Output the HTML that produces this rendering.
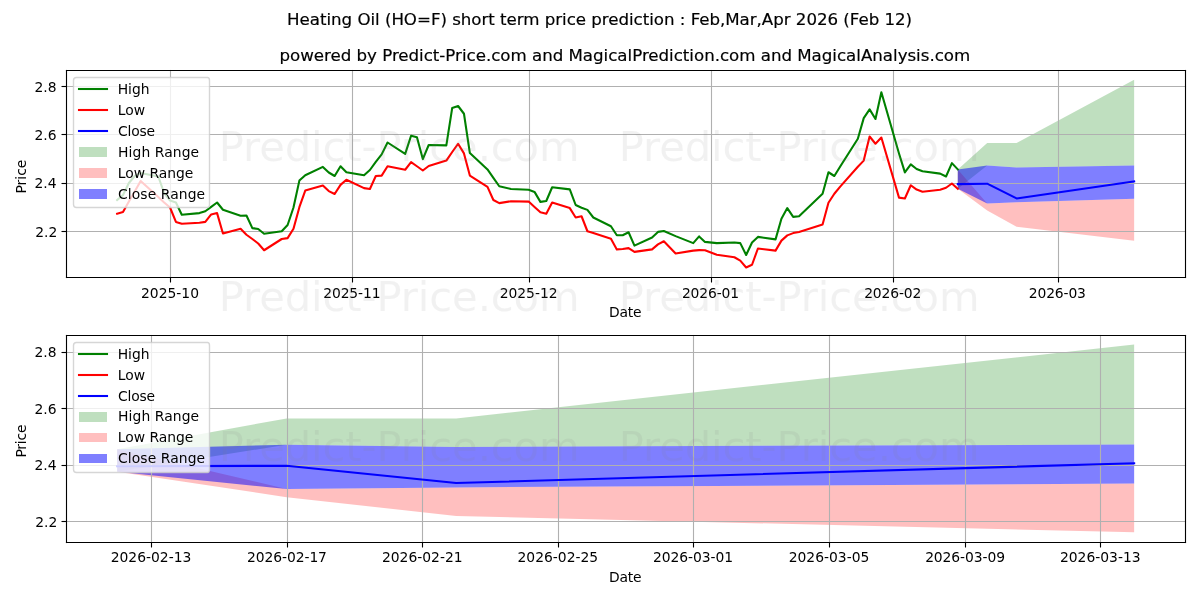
<!DOCTYPE html>
<html lang="en"><head><meta charset="utf-8"><title>Heating Oil (HO=F) short term price prediction</title>
<style>
html,body{margin:0;padding:0;background:#fff;}
body{width:1200px;height:600px;overflow:hidden;}
svg{display:block;font-family:"DejaVu Sans","Liberation Sans",sans-serif;}
</style></head><body>
<svg width="1200" height="600" viewBox="0 0 1200 600">
<path d="M0 600L1200 600L1200 0L0 0Z" fill="#ffffff"/>
<path d="M66 277L1185 277L1185 70L66 70Z" fill="#ffffff"/>
<path d="M957.79 169.4L957.79 188.75L987.18 165.59L1016.57 167.47L1134.15 165.42L1134.15 79.72L1134.15 79.72L1016.57 143.04L987.18 143.04L957.79 169.4Z" fill="#008000" fill-opacity="0.25"/>
<path d="M957.79 169.4L957.79 188.75L987.18 210.6L1016.57 226.72L1134.15 240.73L1134.15 198.86L1134.15 198.86L1016.57 202.2L987.18 203.57L957.79 169.4Z" fill="#ff0000" fill-opacity="0.25"/>
<path d="M957.79 169.4L957.79 188.75L987.18 203.57L1016.57 202.2L1134.15 198.86L1134.15 165.42L1134.15 165.42L1016.57 167.47L987.18 165.59L957.79 169.4Z" fill="#0000ff" fill-opacity="0.5"/>
<path d="M170.5 277.5L170.5 70.5" fill="none" stroke="#b0b0b0" stroke-width="1.11" stroke-linecap="square" stroke-linejoin="round"/>
<path d="M170.5 277.5L170.5 282.5" fill="#000000" stroke="#000000" stroke-width="1.11" stroke-linejoin="round"/>
<text x="170.04" y="297.61" font-size="13.89" text-anchor="middle">2025-10</text>
<path d="M352.5 277.5L352.5 70.5" fill="none" stroke="#b0b0b0" stroke-width="1.11" stroke-linecap="square" stroke-linejoin="round"/>
<path d="M352.5 277.5L352.5 282.5" fill="#000000" stroke="#000000" stroke-width="1.11" stroke-linejoin="round"/>
<text x="351.88" y="297.61" font-size="13.89" text-anchor="middle" textLength="57.18">2025-11</text>
<path d="M529.5 277.5L529.5 70.5" fill="none" stroke="#b0b0b0" stroke-width="1.11" stroke-linecap="square" stroke-linejoin="round"/>
<path d="M529.5 277.5L529.5 282.5" fill="#000000" stroke="#000000" stroke-width="1.11" stroke-linejoin="round"/>
<text x="528.64" y="297.61" font-size="13.89" text-anchor="middle">2025-12</text>
<path d="M711.5 277.5L711.5 70.5" fill="none" stroke="#b0b0b0" stroke-width="1.11" stroke-linecap="square" stroke-linejoin="round"/>
<path d="M711.5 277.5L711.5 282.5" fill="#000000" stroke="#000000" stroke-width="1.11" stroke-linejoin="round"/>
<text x="710.48" y="297.61" font-size="13.89" text-anchor="middle" textLength="57.18">2026-01</text>
<path d="M893.5 277.5L893.5 70.5" fill="none" stroke="#b0b0b0" stroke-width="1.11" stroke-linecap="square" stroke-linejoin="round"/>
<path d="M893.5 277.5L893.5 282.5" fill="#000000" stroke="#000000" stroke-width="1.11" stroke-linejoin="round"/>
<text x="892.72" y="297.61" font-size="13.89" text-anchor="middle" textLength="57.18">2026-02</text>
<path d="M1058.5 277.5L1058.5 70.5" fill="none" stroke="#b0b0b0" stroke-width="1.11" stroke-linecap="square" stroke-linejoin="round"/>
<path d="M1058.5 277.5L1058.5 282.5" fill="#000000" stroke="#000000" stroke-width="1.11" stroke-linejoin="round"/>
<text x="1057.33" y="297.61" font-size="13.89" text-anchor="middle" textLength="57.18">2026-03</text>
<text x="625.24" y="317.17" font-size="13.89" text-anchor="middle" textLength="32.37">Date</text>
<path d="M66.5 231.5L1185.5 231.5" fill="none" stroke="#b0b0b0" stroke-width="1.11" stroke-linecap="square" stroke-linejoin="round"/>
<path d="M66.5 231.5L61.5 231.5" fill="#000000" stroke="#000000" stroke-width="1.11" stroke-linejoin="round"/>
<text x="57.36" y="236.76" font-size="13.89" text-anchor="end" textLength="22.08">2.2</text>
<path d="M66.5 183.5L1185.5 183.5" fill="none" stroke="#b0b0b0" stroke-width="1.11" stroke-linecap="square" stroke-linejoin="round"/>
<path d="M66.5 183.5L61.5 183.5" fill="#000000" stroke="#000000" stroke-width="1.11" stroke-linejoin="round"/>
<text x="56.56" y="188.35" font-size="13.89" text-anchor="end">2.4</text>
<path d="M66.5 134.5L1185.5 134.5" fill="none" stroke="#b0b0b0" stroke-width="1.11" stroke-linecap="square" stroke-linejoin="round"/>
<path d="M66.5 134.5L61.5 134.5" fill="#000000" stroke="#000000" stroke-width="1.11" stroke-linejoin="round"/>
<text x="56.56" y="139.93" font-size="13.89" text-anchor="end">2.6</text>
<path d="M66.5 86.5L1185.5 86.5" fill="none" stroke="#b0b0b0" stroke-width="1.11" stroke-linecap="square" stroke-linejoin="round"/>
<path d="M66.5 86.5L61.5 86.5" fill="#000000" stroke="#000000" stroke-width="1.11" stroke-linejoin="round"/>
<text x="56.56" y="91.52" font-size="13.89" text-anchor="end">2.8</text>
<text x="26" y="176.61" font-size="13.89" text-anchor="middle" transform="rotate(-90 26 176.61)">Price</text>
<path d="M117.13 200L123.01 195L128.89 183L134.76 176L140.64 173L158.28 176.5L164.16 193L170.04 200.5L175.92 202.5L181.79 214.75L199.43 213.1L205.31 211.25L211.19 206.9L217.07 202.5L222.95 209.75L240.58 215.8L246.46 215.5L252.34 228.1L258.22 229L264.1 233.75L281.73 231.25L287.61 225L293.49 207.5L299.37 180.6L305.25 175.25L322.88 166.9L328.76 172.5L334.64 176L340.52 166.25L346.4 172.25L364.04 175.25L369.91 170L375.79 161.9L381.67 154.4L387.55 142.5L405.19 153.9L411.07 135.8L416.94 137.25L422.82 159.1L428.7 145L446.34 145.4L452.22 107.9L458.1 106L463.97 113.75L469.85 153.1L487.49 169.4L493.37 177.9L499.25 186.25L511 189L528.64 189.75L534.52 191.9L540.4 201.9L546.28 201L552.15 187.25L569.79 189.4L575.67 205L581.55 207.7L587.43 209.9L593.31 217.5L610.94 226.25L616.82 235.25L622.7 235.25L628.58 232.25L634.46 245.6L652.09 237.5L657.97 231.9L663.85 231L675.61 236.1L693.24 243.1L699.12 236.4L705 241.9L716.76 243.1L734.4 242.5L740.27 243.1L746.15 255L752.03 242.5L757.91 236.9L775.55 239.4L781.43 218.75L787.3 208.1L793.18 216.9L799.06 216.25L822.58 193.75L828.46 172.25L834.33 176L840.21 166.5L857.85 138.75L863.73 118.1L869.61 109.4L875.48 119L881.36 92.25L899 153.5L904.88 172.4L910.76 164.4L916.64 169L922.51 171.25L940.15 173.6L946.03 176.5L951.91 163.1L957.79 169.4" fill="none" stroke="#008000" stroke-width="2.08" stroke-linecap="square" stroke-linejoin="round"/>
<path d="M117.13 213.75L123.01 212L128.89 201.6L134.76 191.4L140.64 181L158.28 197.1L164.16 202.5L170.04 207.5L175.92 221.9L181.79 223.75L199.43 222.75L205.31 221.9L211.19 214.4L217.07 213.1L222.95 233.5L240.58 228.75L246.46 234.75L252.34 239L258.22 243.5L264.1 250.25L281.73 239L287.61 238.1L293.49 228.75L299.37 207.2L305.25 190.6L322.88 185.5L328.76 191.1L334.64 194L340.52 184.9L346.4 179.75L364.04 188.1L369.91 189L375.79 176L381.67 175.6L387.55 166.25L405.19 169.75L411.07 162.2L416.94 166.25L422.82 170.5L428.7 166L446.34 160.6L452.22 152L458.1 143.75L463.97 153.4L469.85 175.6L487.49 186.9L493.37 200L499.25 203.1L511 201.25L528.64 201.6L534.52 206.9L540.4 212.25L546.28 213.75L552.15 202.5L569.79 208.1L575.67 217.5L581.55 216.25L587.43 231.25L593.31 232.9L610.94 238.75L616.82 249.4L622.7 249L628.58 248.1L634.46 251.9L652.09 249.4L657.97 244.4L663.85 241.25L675.61 253.5L693.24 250.6L699.12 250.1L705 250.2L716.76 254.75L734.4 257.25L740.27 260.6L746.15 267.5L752.03 264.75L757.91 248.5L775.55 250.6L781.43 240.6L787.3 235.4L793.18 233.1L799.06 231.9L822.58 224.4L828.46 202.8L834.33 193.75L840.21 186.6L857.85 166.7L863.73 160.6L869.61 136.5L875.48 143.75L881.36 137.5L899 197.6L904.88 198.5L910.76 185.25L916.64 189.6L922.51 191.7L940.15 189.75L946.03 187.75L951.91 183.5L957.79 188.75" fill="none" stroke="#ff0000" stroke-width="2.08" stroke-linecap="square" stroke-linejoin="round"/>
<path d="M957.79 184.11L987.18 183.68L1016.57 198.43L1134.15 181.45" fill="none" stroke="#0000ff" stroke-width="2.08" stroke-linecap="square" stroke-linejoin="round"/>
<path d="M66.5 277.5L66.5 70.5" fill="none" stroke="#000000" stroke-width="1.11" stroke-linecap="square"/>
<path d="M1185.5 277.5L1185.5 70.5" fill="none" stroke="#000000" stroke-width="1.11" stroke-linecap="square"/>
<path d="M66.5 277.5L1185.5 277.5" fill="none" stroke="#000000" stroke-width="1.11" stroke-linecap="square"/>
<path d="M66.5 70.5L1185.5 70.5" fill="none" stroke="#000000" stroke-width="1.11" stroke-linecap="square"/>
<text x="624.84" y="61.2" font-size="16.67" text-anchor="middle" textLength="690.74" stroke="#000" stroke-width="0.18">powered by Predict-Price.com and MagicalPrediction.com and MagicalAnalysis.com</text>
<path d="M76.5 207.5L207.5 207.5Q209.5 207.5 209.5 204.5L209.5 80.5Q209.5 77.5 207.5 77.5L76.5 77.5Q73.5 77.5 73.5 80.5L73.5 204.5Q73.5 207.5 76.5 207.5Z" fill="#ffffff" fill-opacity="0.8" stroke="#cccccc" stroke-width="1.39" stroke-opacity="0.8"/>
<path d="M79 89L93 89L107 89" fill="none" stroke="#008000" stroke-width="2.08" stroke-linecap="square" stroke-linejoin="round"/>
<text x="117.67" y="93.83" font-size="13.89">High</text>
<path d="M79 110L93 110L107 110" fill="none" stroke="#ff0000" stroke-width="2.08" stroke-linecap="square" stroke-linejoin="round"/>
<text x="117.67" y="114.78" font-size="13.89">Low</text>
<path d="M79 131L93 131L107 131" fill="none" stroke="#0000ff" stroke-width="2.08" stroke-linecap="square" stroke-linejoin="round"/>
<text x="118.07" y="135.72" font-size="13.89" textLength="37.01">Close</text>
<path d="M79 157L107 157L107 147L79 147Z" fill="#008000" fill-opacity="0.25"/>
<text x="118.07" y="156.67" font-size="13.89" textLength="81.08">High Range</text>
<path d="M79 178L107 178L107 168L79 168Z" fill="#ff0000" fill-opacity="0.25"/>
<text x="117.67" y="177.61" font-size="13.89">Low Range</text>
<path d="M79 199L107 199L107 189L79 189Z" fill="#0000ff" fill-opacity="0.5"/>
<text x="118.07" y="198.56" font-size="13.89" textLength="86.99">Close Range</text>
<path d="M66 542L1185 542L1185 335L66 335Z" fill="#ffffff"/>
<path d="M117.13 449.15L117.13 471.71L286.63 444.7L456.14 446.9L1134.15 444.5L1134.15 344.56L1134.15 344.56L456.14 418.4L286.63 418.4L117.13 449.15Z" fill="#008000" fill-opacity="0.25"/>
<path d="M117.13 449.15L117.13 471.71L286.63 497.2L456.14 516L1134.15 532.33L1134.15 483.5L1134.15 483.5L456.14 487.4L286.63 489L117.13 449.15Z" fill="#ff0000" fill-opacity="0.25"/>
<path d="M117.13 449.15L117.13 471.71L286.63 489L456.14 487.4L1134.15 483.5L1134.15 444.5L1134.15 444.5L456.14 446.9L286.63 444.7L117.13 449.15Z" fill="#0000ff" fill-opacity="0.5"/>
<path d="M151.5 542.5L151.5 335.5" fill="none" stroke="#b0b0b0" stroke-width="1.11" stroke-linecap="square" stroke-linejoin="round"/>
<path d="M151.5 542.5L151.5 547.5" fill="#000000" stroke="#000000" stroke-width="1.11" stroke-linejoin="round"/>
<text x="151.03" y="562.44" font-size="13.89" text-anchor="middle">2026-02-13</text>
<path d="M287.5 542.5L287.5 335.5" fill="none" stroke="#b0b0b0" stroke-width="1.11" stroke-linecap="square" stroke-linejoin="round"/>
<path d="M287.5 542.5L287.5 547.5" fill="#000000" stroke="#000000" stroke-width="1.11" stroke-linejoin="round"/>
<text x="287.03" y="562.44" font-size="13.89" text-anchor="middle" textLength="79.84">2026-02-17</text>
<path d="M422.5 542.5L422.5 335.5" fill="none" stroke="#b0b0b0" stroke-width="1.11" stroke-linecap="square" stroke-linejoin="round"/>
<path d="M422.5 542.5L422.5 547.5" fill="#000000" stroke="#000000" stroke-width="1.11" stroke-linejoin="round"/>
<text x="422.23" y="562.44" font-size="13.89" text-anchor="middle">2026-02-21</text>
<path d="M558.5 542.5L558.5 335.5" fill="none" stroke="#b0b0b0" stroke-width="1.11" stroke-linecap="square" stroke-linejoin="round"/>
<path d="M558.5 542.5L558.5 547.5" fill="#000000" stroke="#000000" stroke-width="1.11" stroke-linejoin="round"/>
<text x="557.84" y="562.44" font-size="13.89" text-anchor="middle">2026-02-25</text>
<path d="M693.5 542.5L693.5 335.5" fill="none" stroke="#b0b0b0" stroke-width="1.11" stroke-linecap="square" stroke-linejoin="round"/>
<path d="M693.5 542.5L693.5 547.5" fill="#000000" stroke="#000000" stroke-width="1.11" stroke-linejoin="round"/>
<text x="693.04" y="562.44" font-size="13.89" text-anchor="middle" textLength="79.84">2026-03-01</text>
<path d="M829.5 542.5L829.5 335.5" fill="none" stroke="#b0b0b0" stroke-width="1.11" stroke-linecap="square" stroke-linejoin="round"/>
<path d="M829.5 542.5L829.5 547.5" fill="#000000" stroke="#000000" stroke-width="1.11" stroke-linejoin="round"/>
<text x="829.04" y="562.44" font-size="13.89" text-anchor="middle">2026-03-05</text>
<path d="M965.5 542.5L965.5 335.5" fill="none" stroke="#b0b0b0" stroke-width="1.11" stroke-linecap="square" stroke-linejoin="round"/>
<path d="M965.5 542.5L965.5 547.5" fill="#000000" stroke="#000000" stroke-width="1.11" stroke-linejoin="round"/>
<text x="965.05" y="562.44" font-size="13.89" text-anchor="middle" textLength="79.84">2026-03-09</text>
<path d="M1100.5 542.5L1100.5 335.5" fill="none" stroke="#b0b0b0" stroke-width="1.11" stroke-linecap="square" stroke-linejoin="round"/>
<path d="M1100.5 542.5L1100.5 547.5" fill="#000000" stroke="#000000" stroke-width="1.11" stroke-linejoin="round"/>
<text x="1100.25" y="562.44" font-size="13.89" text-anchor="middle">2026-03-13</text>
<text x="625.24" y="582" font-size="13.89" text-anchor="middle" textLength="32.37">Date</text>
<path d="M66.5 521.5L1185.5 521.5" fill="none" stroke="#b0b0b0" stroke-width="1.11" stroke-linecap="square" stroke-linejoin="round"/>
<path d="M66.5 521.5L61.5 521.5" fill="#000000" stroke="#000000" stroke-width="1.11" stroke-linejoin="round"/>
<text x="57.36" y="526.79" font-size="13.89" text-anchor="end" textLength="22.08">2.2</text>
<path d="M66.5 465.5L1185.5 465.5" fill="none" stroke="#b0b0b0" stroke-width="1.11" stroke-linecap="square" stroke-linejoin="round"/>
<path d="M66.5 465.5L61.5 465.5" fill="#000000" stroke="#000000" stroke-width="1.11" stroke-linejoin="round"/>
<text x="56.56" y="470.33" font-size="13.89" text-anchor="end">2.4</text>
<path d="M66.5 408.5L1185.5 408.5" fill="none" stroke="#b0b0b0" stroke-width="1.11" stroke-linecap="square" stroke-linejoin="round"/>
<path d="M66.5 408.5L61.5 408.5" fill="#000000" stroke="#000000" stroke-width="1.11" stroke-linejoin="round"/>
<text x="56.56" y="413.86" font-size="13.89" text-anchor="end">2.6</text>
<path d="M66.5 352.5L1185.5 352.5" fill="none" stroke="#b0b0b0" stroke-width="1.11" stroke-linecap="square" stroke-linejoin="round"/>
<path d="M66.5 352.5L61.5 352.5" fill="#000000" stroke="#000000" stroke-width="1.11" stroke-linejoin="round"/>
<text x="56.56" y="357.4" font-size="13.89" text-anchor="end">2.8</text>
<text x="26" y="441.04" font-size="13.89" text-anchor="middle" textLength="33.06" transform="rotate(-90 26 441.04)">Price</text>
<path d="M117.13 466.3L286.63 465.8L456.14 483L1134.15 463.2" fill="none" stroke="#0000ff" stroke-width="2.08" stroke-linecap="square" stroke-linejoin="round"/>
<path d="M66.5 542.5L66.5 335.5" fill="none" stroke="#000000" stroke-width="1.11" stroke-linecap="square"/>
<path d="M1185.5 542.5L1185.5 335.5" fill="none" stroke="#000000" stroke-width="1.11" stroke-linecap="square"/>
<path d="M66.5 542.5L1185.5 542.5" fill="none" stroke="#000000" stroke-width="1.11" stroke-linecap="square"/>
<path d="M66.5 335.5L1185.5 335.5" fill="none" stroke="#000000" stroke-width="1.11" stroke-linecap="square"/>
<path d="M76.5 472.5L207.5 472.5Q209.5 472.5 209.5 469.5L209.5 345.5Q209.5 342.5 207.5 342.5L76.5 342.5Q73.5 342.5 73.5 345.5L73.5 469.5Q73.5 472.5 76.5 472.5Z" fill="#ffffff" fill-opacity="0.8" stroke="#cccccc" stroke-width="1.39" stroke-opacity="0.8"/>
<path d="M79 354L93 354L107 354" fill="none" stroke="#008000" stroke-width="2.08" stroke-linecap="square" stroke-linejoin="round"/>
<text x="117.67" y="358.67" font-size="13.89">High</text>
<path d="M79 375L93 375L107 375" fill="none" stroke="#ff0000" stroke-width="2.08" stroke-linecap="square" stroke-linejoin="round"/>
<text x="117.67" y="379.61" font-size="13.89">Low</text>
<path d="M79 396L93 396L107 396" fill="none" stroke="#0000ff" stroke-width="2.08" stroke-linecap="square" stroke-linejoin="round"/>
<text x="118.07" y="400.56" font-size="13.89" textLength="37.01">Close</text>
<path d="M79 422L107 422L107 412L79 412Z" fill="#008000" fill-opacity="0.25"/>
<text x="118.07" y="420.7" font-size="13.89" textLength="81.08">High Range</text>
<path d="M79 442L107 442L107 433L79 433Z" fill="#ff0000" fill-opacity="0.25"/>
<text x="117.67" y="442.44" font-size="13.89">Low Range</text>
<path d="M79 463L107 463L107 454L79 454Z" fill="#0000ff" fill-opacity="0.5"/>
<text x="118.07" y="463.39" font-size="13.89" textLength="86.99">Close Range</text>
<text x="599.6" y="25.2" font-size="16.67" text-anchor="middle" textLength="625.02" stroke="#000" stroke-width="0.18">Heating Oil (HO=F) short term price prediction : Feb,Mar,Apr 2026 (Feb 12)</text>
<text x="399.2" y="461.2" font-size="41.67" text-anchor="middle" textLength="360.74" fill="#808080" opacity="0.1">Predict-Price.com</text>
<text x="399.2" y="311.2" font-size="41.67" text-anchor="middle" textLength="360.74" fill="#808080" opacity="0.1">Predict-Price.com</text>
<text x="399.2" y="161.2" font-size="41.67" text-anchor="middle" textLength="360.74" fill="#808080" opacity="0.1">Predict-Price.com</text>
<text x="799.2" y="461.2" font-size="41.67" text-anchor="middle" textLength="360.74" fill="#808080" opacity="0.1">Predict-Price.com</text>
<text x="799.2" y="311.2" font-size="41.67" text-anchor="middle" textLength="360.74" fill="#808080" opacity="0.1">Predict-Price.com</text>
<text x="799.2" y="161.2" font-size="41.67" text-anchor="middle" textLength="360.74" fill="#808080" opacity="0.1">Predict-Price.com</text>
</svg>
</body></html>
